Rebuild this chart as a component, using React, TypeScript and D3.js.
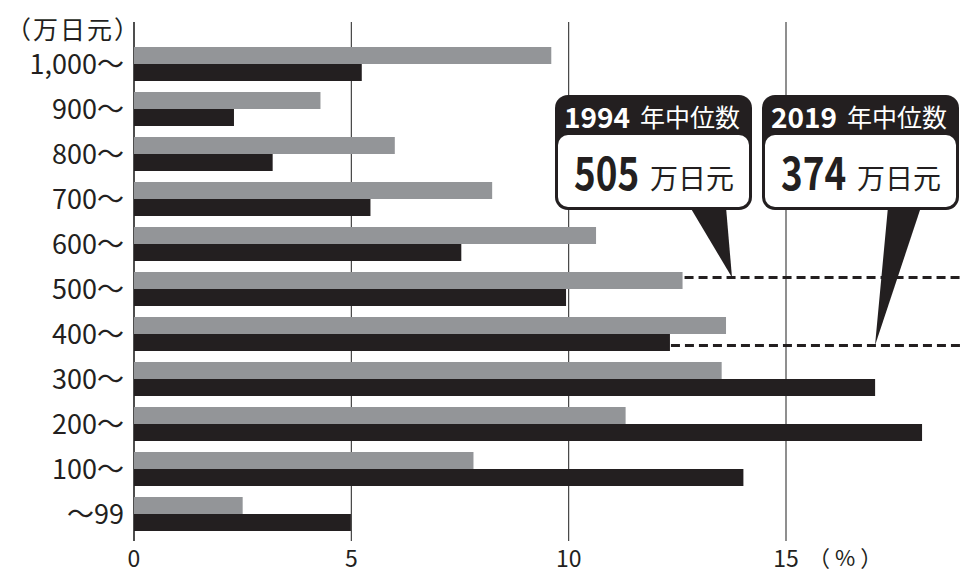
import { useEffect } from 'react';
import * as d3 from 'd3';

// income brackets (万日元), top to bottom
const categories = ['1,000～', '900～', '800～', '700～', '600～', '500～', '400～', '300～', '200～', '100～', '～99'];
// share of households (%)
const share1994 = [9.6, 4.29, 6.0, 8.24, 10.63, 12.62, 13.62, 13.52, 11.31, 7.81, 2.5];
const share2019 = [5.24, 2.3, 3.19, 5.44, 7.53, 9.94, 12.33, 17.05, 18.13, 14.02, 4.99];
const xTicks = [0, 5, 10, 15];

const medianYears = ['1994', '2019'];
const medianValues = ['505', '374'];

const W = 973;
const H = 584;
const GRAY = '#939598';
const BLACK = '#231f20';
const JP = '"Noto Sans CJK JP", "Noto Sans", sans-serif';

export default function App() {
  useEffect(() => {
    document.body.style.margin = '0';
  }, []);

  const x = d3.scaleLinear().domain([0, 15]).range([134, 786]);
  const y = d3.scaleBand<string>().domain(categories).range([47, 531]).paddingInner(11 / 45).paddingOuter(0);
  const bh = y.bandwidth() / 2;

  // dashed median guide lines: 1994 across the 500～ gray bar, 2019 across the 400～ black bar
  const guide1994 = { x0: x(share1994[5]) + 2, y: (y('500～') as number) + 5.5 };
  const guide2019 = { x0: x(share2019[6]) + 1, y: (y('400～') as number) + bh + 11.5 };

  const boxes = [
    { x: 555, pointer: [[690, 207], [726, 207], [732, guide1994.y]] },
    { x: 762, pointer: [[888, 207], [921, 207], [875, guide2019.y]] },
  ];

  return (
    <svg width={W} height={H} style={{ display: 'block', background: '#fff' }}>
      {/* grid lines */}
      {xTicks.map((t) => (
        <line key={'g' + t} x1={x(t)} x2={x(t)} y1={22} y2={541}
          stroke={t === 0 ? '#222' : '#333'} strokeWidth={t === 0 ? 1.6 : 1.1} />
      ))}

      {/* bars */}
      {categories.map((c, i) => (
        <g key={c}>
          <rect x={x(0)} y={y(c)} width={x(share1994[i]) - x(0)} height={bh} fill={GRAY} />
          <rect x={x(0)} y={(y(c) as number) + bh} width={x(share2019[i]) - x(0)} height={bh} fill={BLACK} />
          <text x={124} y={(y(c) as number) + y.bandwidth() / 2 + 10} textAnchor="end"
            fontFamily={JP} fontSize={27} fill={BLACK}>{c}</text>
        </g>
      ))}

      {/* unit label */}
      <text x={6} y={39} fontFamily={JP} fontSize={25} letterSpacing={2} fill={BLACK}>（万日元）</text>

      {/* x tick labels */}
      {xTicks.map((t) => (
        <text key={'t' + t} x={x(t)} y={567} textAnchor="middle" fontFamily={JP} fontSize={23} fill={BLACK}>{t}</text>
      ))}
      <text x={808} y={566} fontFamily={JP} fontSize={22} letterSpacing={5} fill={BLACK}>（%）</text>

      {/* dashed median lines */}
      <line x1={guide1994.x0} x2={960} y1={guide1994.y} y2={guide1994.y} stroke={BLACK} strokeWidth={3} strokeDasharray="9 5" />
      <line x1={guide2019.x0} x2={960} y1={guide2019.y} y2={guide2019.y} stroke={BLACK} strokeWidth={3} strokeDasharray="9 5" />

      {/* callouts */}
      {boxes.map((b, i) => (
        <g key={'b' + i}>
          <rect x={b.x} y={95} width={197} height={115} rx={13} fill={BLACK} />
          <rect x={b.x + 3} y={135} width={191} height={72} rx={10} fill="#fff" />
          <path d={d3.line()(b.pointer as [number, number][]) + 'Z'} fill={BLACK} />
          <text x={b.x + 9} y={128} fontFamily={JP} fontWeight="bold" fontSize={28} fill="#fff">{medianYears[i]}</text>
          <text x={b.x + 85} y={127} fontFamily={JP} fontSize={25} fill="#fff">年中位数</text>
          <text transform={`translate(${b.x + 19},190) scale(0.8,1)`} fontFamily={JP} fontWeight="bold"
            fontSize={46} fill={BLACK}>{medianValues[i]}</text>
          <text x={b.x + 95} y={189} fontFamily={JP} fontSize={28} fill={BLACK}>万日元</text>
        </g>
      ))}
    </svg>
  );
}
